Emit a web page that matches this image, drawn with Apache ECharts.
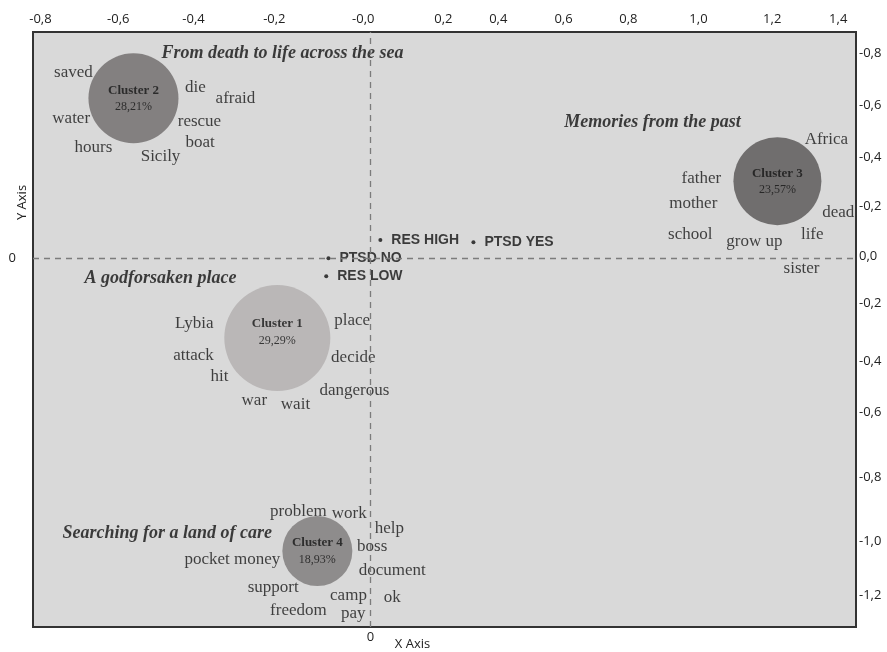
<!DOCTYPE html>
<html>
<head>
<meta charset="utf-8">
<script src="https://cdn.jsdelivr.net/npm/echarts@6/dist/echarts.min.js"></script>
<style>
  html, body { margin: 0; padding: 0; background: #fff; }
  #chart { width: 887px; height: 652px; }
</style>
</head>
<body>
<div id="chart"></div>
<script>
// --- plot extent (data units) ---
const xRange = [-0.91, 1.31];
const yRange = [-1.37, 0.84];

// printed tick labels and the value where each one sits
const topTickText = ['-0,8', '-0,6', '-0,4', '-0,2', '-0,0', '0,2', '0,4', '0,6', '0,8', '1,0', '1,2', '1,4'];
const topTickAt = [-0.890, -0.680, -0.477, -0.259, -0.019, 0.197, 0.345, 0.521, 0.696, 0.885, 1.084, 1.262];
const rightTickText = ['-0,8', '-0,6', '-0,4', '-0,2', '0,0', '-0,2', '-0,4', '-0,6', '-0,8', '-1,0', '-1,2'];
const rightTickAt = [0.762, 0.568, 0.375, 0.193, 0.007, -0.167, -0.383, -0.572, -0.814, -1.051, -1.252];

// clusters
const clusterNames = ['Cluster 1', 'Cluster 2', 'Cluster 3', 'Cluster 4'];
const clusterShare = ['29,29%', '28,21%', '23,57%', '18,93%'];
const clusterX = [-0.251, -0.639, 1.098, -0.143];
const clusterY = [-0.297, 0.594, 0.286, -1.088];

// theme headings
const themeNames = ['A godforsaken place', 'From death to life across the sea', 'Memories from the past', 'Searching for a land of care'];
const themeX = [-0.566, -0.237, 0.761, -0.548];
const themeY = [-0.074, 0.762, 0.505, -1.022];

// words: [word, x, y]
const words1 = [
  ['Lybia', -0.475, -0.241], ['place', -0.049, -0.230], ['attack', -0.477, -0.360],
  ['decide', -0.046, -0.368], ['hit', -0.407, -0.438], ['dangerous', -0.043, -0.490],
  ['war', -0.313, -0.527], ['wait', -0.202, -0.542]
];
const words2 = [
  ['saved', -0.801, 0.691], ['die', -0.472, 0.635], ['afraid', -0.364, 0.594],
  ['water', -0.807, 0.520], ['rescue', -0.461, 0.509], ['hours', -0.747, 0.412],
  ['boat', -0.459, 0.431], ['Sicily', -0.566, 0.379]
];
const words3 = [
  ['Africa', 1.230, 0.442], ['father', 0.893, 0.297], ['mother', 0.871, 0.204],
  ['dead', 1.262, 0.171], ['school', 0.863, 0.089], ['grow up', 1.036, 0.063],
  ['life', 1.192, 0.089], ['sister', 1.163, -0.037]
];
const words4 = [
  ['problem', -0.194, -0.940], ['work', -0.057, -0.947], ['help', 0.051, -1.003],
  ['boss', 0.005, -1.070], ['pocket money', -0.372, -1.118], ['document', 0.059, -1.159],
  ['support', -0.262, -1.222], ['camp', -0.059, -1.252], ['ok', 0.059, -1.259],
  ['freedom', -0.194, -1.308], ['pay', -0.046, -1.319]
];

// supplementary points
const pointNames = ['RES HIGH', 'PTSD YES', 'PTSD NO', 'RES LOW'];
const pointX = [0.027, 0.278, -0.113, -0.119];
const pointY = [0.067, 0.059, 0.0, -0.067];

// --- styles ---
const clusterSize = [106, 90, 88, 70];
const clusterColor = ['#b1aeae', '#6d6969', '#555353', '#7b7878'];
const clusterLabelShift = [-6, 0, 0, 0];
const serif = '"Liberation Serif", "DejaVu Serif", serif';
const sans = '"Open Sans", "Liberation Sans", sans-serif';

function pick(texts, at) {
  return function (v) {
    let best = 0;
    for (let i = 1; i < at.length; i++) {
      if (Math.abs(at[i] - v) < Math.abs(at[best] - v)) best = i;
    }
    return texts[best];
  };
}

const chart = echarts.init(document.getElementById('chart'));

const allWords = words1.concat(words2, words3, words4);

const option = {
  animation: false,
  backgroundColor: '#fff',
  grid: {
    left: 33, right: 31, top: 32, bottom: 25,
    show: true,
    backgroundColor: '#d9d9d9',
    borderColor: '#333',
    borderWidth: 2,
    outerBoundsMode: 'none'
  },
  xAxis: [
    {
      type: 'value', position: 'top', min: xRange[0], max: xRange[1],
      axisLine: { show: false }, axisTick: { show: false }, splitLine: { show: false },
      axisLabel: {
        customValues: topTickAt,
        formatter: pick(topTickText, topTickAt),
        margin: 6, fontFamily: sans, fontSize: 13, color: '#222'
      }
    },
    {
      type: 'value', position: 'bottom', min: xRange[0], max: xRange[1],
      axisLine: { show: false }, axisTick: { show: false }, splitLine: { show: false },
      axisLabel: {
        customValues: [0],
        formatter: () => '0',
        margin: 4, fontFamily: sans, fontSize: 13, color: '#222'
      },
      name: 'X Axis', nameLocation: 'middle', nameGap: 11, nameMoveOverlap: false,
      nameTextStyle: { fontFamily: sans, fontSize: 13, color: '#222', padding: [0, 64, 0, 0] }
    }
  ],
  yAxis: [
    {
      type: 'value', position: 'left', min: yRange[0], max: yRange[1],
      axisLine: { show: false }, axisTick: { show: false }, splitLine: { show: false },
      axisLabel: {
        customValues: [0],
        formatter: () => '0',
        margin: 17, fontFamily: sans, fontSize: 13, color: '#222',
        padding: [0, 0, 10, 0]
      },
      name: 'Y Axis', nameLocation: 'middle', nameGap: 4, nameMoveOverlap: false,
      nameTextStyle: { fontFamily: sans, fontSize: 13, color: '#222', padding: [0, 0, 0, 254] }
    },
    {
      type: 'value', position: 'right', min: yRange[0], max: yRange[1],
      axisLine: { show: false }, axisTick: { show: false }, splitLine: { show: false },
      axisLabel: {
        customValues: rightTickAt,
        formatter: pick(rightTickText, rightTickAt),
        margin: 3, fontFamily: sans, fontSize: 13, color: '#222'
      }
    }
  ],
  series: [
    {
      name: 'clusters',
      type: 'scatter',
      silent: true,
      data: clusterNames.map((n, i) => ({
        name: n,
        value: [clusterX[i], clusterY[i]],
        symbolSize: clusterSize[i],
        itemStyle: { color: clusterColor[i] },
        label: { offset: [0, clusterLabelShift[i]] }
      })),
      label: {
        show: true,
        position: 'inside',
        formatter: p => '{a|' + p.name + '}\n{b|' + clusterShare[p.dataIndex] + '}',
        rich: {
          a: { fontFamily: serif, fontWeight: 'bold', fontSize: 13, color: '#151515', lineHeight: 18 },
          b: { fontFamily: serif, fontSize: 12, color: '#151515', lineHeight: 16 }
        }
      }
    },
    {
      name: 'words',
      type: 'scatter',
      silent: true,
      symbolSize: 1,
      itemStyle: { color: 'transparent' },
      data: allWords.map(w => ({ name: w[0], value: [w[1], w[2]] })),
      label: {
        show: true, position: 'inside', formatter: '{b}',
        fontFamily: serif, fontSize: 17, color: '#161616'
      }
    },
    {
      name: 'themes',
      type: 'scatter',
      silent: true,
      symbolSize: 1,
      itemStyle: { color: 'transparent' },
      data: themeNames.map((n, i) => ({ name: n, value: [themeX[i], themeY[i]] })),
      label: {
        show: true, position: 'inside', formatter: '{b}',
        fontFamily: serif, fontSize: 18, fontStyle: 'italic', fontWeight: 'bold', color: '#111'
      }
    },
    {
      name: 'points',
      type: 'scatter',
      silent: true,
      symbolSize: 4,
      itemStyle: { color: '#111' },
      data: pointNames.map((n, i) => ({ name: n, value: [pointX[i], pointY[i]] })),
      label: {
        show: true, position: 'right', distance: 9, formatter: '{b}',
        fontFamily: '"Liberation Sans", Arial, sans-serif', fontSize: 14, fontWeight: 'bold', color: '#111'
      },
      markLine: {
        silent: true,
        symbol: ['none', 'none'],
        label: { show: false },
        lineStyle: { type: [6, 5], color: '#7c7c7c', width: 1.3 },
        data: [{ xAxis: 0 }, { yAxis: 0 }]
      }
    }
  ]
};

chart.setOption(option);
window.onresize = () => chart.resize();
</script>
</body>
</html>
